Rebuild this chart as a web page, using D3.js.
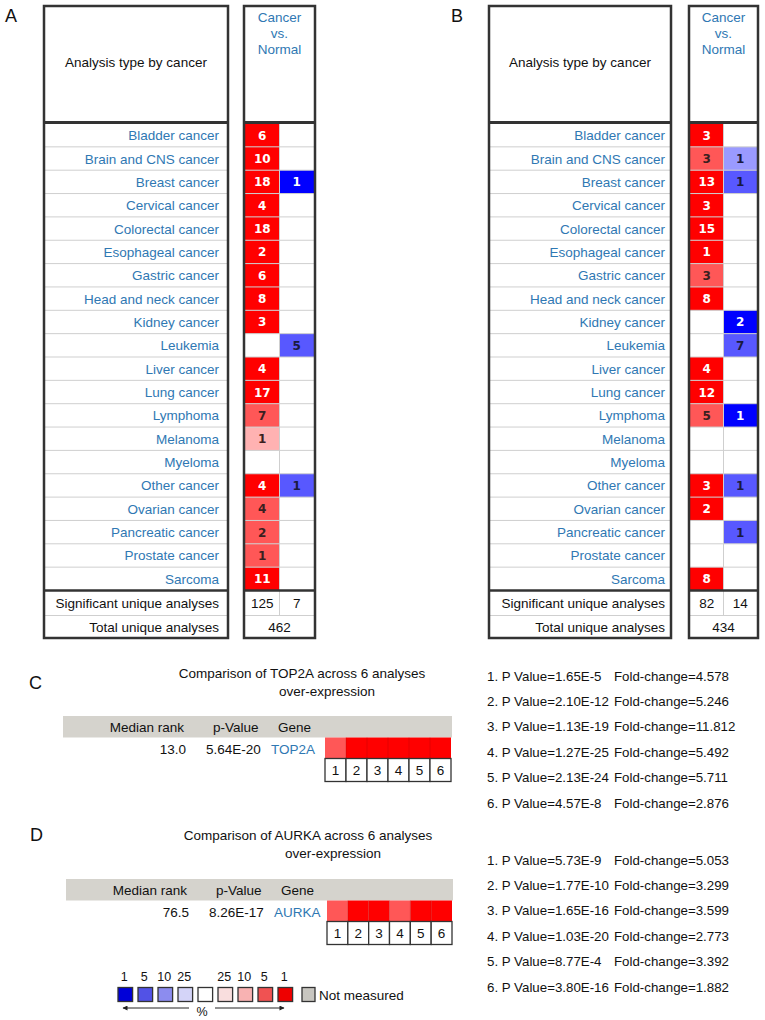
<!DOCTYPE html>
<html><head><meta charset="utf-8">
<script src="https://cdn.jsdelivr.net/npm/d3@7"></script>
<style>body{margin:0;background:#fff}svg{display:block}</style>
</head><body>
<script>
// ---------------- DATA ----------------
const cancers = ["Bladder cancer","Brain and CNS cancer","Breast cancer","Cervical cancer","Colorectal cancer","Esophageal cancer","Gastric cancer","Head and neck cancer","Kidney cancer","Leukemia","Liver cancer","Lung cancer","Lymphoma","Melanoma","Myeloma","Other cancer","Ovarian cancer","Pancreatic cancer","Prostate cancer","Sarcoma"];
// panel A (TOP2A): number of analyses over/under-expressed, and best gene-rank percentile (0 = none)
const upA       = [6,10,18,4,18,2,6,8,3,0,4,17,7,1,0,4,4,2,1,11];
const upRankA   = [1,1,1,1,1,1,1,1,1,0,1,1,5,10,0,1,5,5,5,1];
const downA     = [0,0,1,0,0,0,0,0,0,5,0,0,0,0,0,1,0,0,0,0];
const downRankA = [0,0,1,0,0,0,0,0,0,5,0,0,0,0,0,5,0,0,0,0];
const sigA = [125, 7];
const totalA = 462;
// panel B (AURKA)
const upB       = [3,3,13,3,15,1,3,8,0,0,4,12,5,0,0,3,2,0,0,8];
const upRankB   = [1,5,1,1,1,1,5,1,0,0,1,1,5,0,0,1,1,0,0,1];
const downB     = [0,1,1,0,0,0,0,0,2,7,0,0,1,0,0,1,0,1,0,0];
const downRankB = [0,10,5,0,0,0,0,0,1,5,0,0,1,0,0,5,0,5,0,0];
const sigB = [82, 14];
const totalB = 434;
// panels C / D
const analyses = [1,2,3,4,5,6];
const geneC = "TOP2A", medianRankC = "13.0", pValueC = "5.64E-20";
const cellRankC = [5,1,1,1,1,1];
const pListC  = ["1.65E-5","2.10E-12","1.13E-19","1.27E-25","2.13E-24","4.57E-8"];
const foldListC = ["4.578","5.246","11.812","5.492","5.711","2.876"];
const geneD = "AURKA", medianRankD = "76.5", pValueD = "8.26E-17";
const cellRankD = [5,1,1,5,1,1];
const pListD  = ["5.73E-9","1.77E-10","1.65E-16","1.03E-20","8.77E-4","3.80E-16"];
const foldListD = ["5.053","3.299","3.599","2.773","3.392","1.882"];
// legend
const legendLabels = ["1","5","10","25","","25","10","5","1"];
const legendKeys = ["b1","b5","b10","b25","w","r25","r10","r5","r1"];

// ---------------- STYLE ----------------
const FONT = "'Liberation Sans', Arial, Helvetica, sans-serif";
const BLUE_TXT = "#2f78b3";
const FS = 13.5;
const redScale = d3.scaleOrdinal().domain([1,5,10,25]).range(["#ff0000","#ff5757","#ffb2b2","#ffe0e0"]);
const blueScale = d3.scaleOrdinal().domain([1,5,10,25]).range(["#0000ff","#5858ff","#9a9aff","#d8d8ff"]);
const legendColor = d3.scaleOrdinal().domain(legendKeys)
  .range(["#0000d8","#5252e6","#8c8cef","#d4d4f8","#ffffff","#f9dede","#f8b2b2","#f05252","#ee0000"]);

const W = 765, H = 1020;
const svg = d3.select("body").append("svg").attr("width", W).attr("height", H);
svg.append("rect").attr("width", W).attr("height", H).attr("fill", "#fff");

function panelLetter(x, y, t) {
  svg.append("text").attr("x", x).attr("y", y).attr("font-family", FONT)
    .attr("font-size", 18).attr("fill", "#111").attr("dominant-baseline", "central").text(t);
}

function drawTable(g, up, upRank, down, downRank, sig, total) {
  const top = 6, headY = 122.5, rowsEnd = 590.5, sigEnd = 615.5, bottom = 638;
  const y = d3.scaleBand().domain(cancers).range([headY + 1, rowsEnd]);
  const rx0 = g.rx0 + 1, rx1 = g.rx1 - 1, rmid = (rx0 + rx1) / 2;
  const col = d3.scaleBand().domain(["up","down"]).range([rx0, rx1]);
  const s = svg.append("g");

  cancers.forEach((c, i) => {
    if (up[i] > 0) {
      s.append("rect").attr("x", col("up")).attr("y", y(c)).attr("width", col.bandwidth()).attr("height", y.bandwidth())
        .attr("fill", redScale(upRank[i]));
      s.append("text").attr("x", col("up") + col.bandwidth()/2).attr("y", y(c) + y.bandwidth()/2 + 0.5)
        .attr("text-anchor","middle").attr("dominant-baseline","central")
        .attr("font-family","'DejaVu Sans', Verdana, sans-serif").attr("font-weight","bold").attr("font-size",12)
        .attr("fill", upRank[i] === 1 ? "#fff" : "#3a2020").text(up[i]);
    }
    if (down[i] > 0) {
      s.append("rect").attr("x", col("down")).attr("y", y(c)).attr("width", col.bandwidth()).attr("height", y.bandwidth())
        .attr("fill", blueScale(downRank[i]));
      s.append("text").attr("x", col("down") + col.bandwidth()/2).attr("y", y(c) + y.bandwidth()/2 + 0.5)
        .attr("text-anchor","middle").attr("dominant-baseline","central")
        .attr("font-family","'DejaVu Sans', Verdana, sans-serif").attr("font-weight","bold").attr("font-size",12)
        .attr("fill", downRank[i] === 1 ? "#fff" : "#1a1a40").text(down[i]);
    }
  });

  const grid = s.append("g").attr("stroke", "#cfcfcf").attr("stroke-width", 1);
  cancers.slice(1).forEach(c => {
    grid.append("line").attr("x1", g.lx0).attr("x2", g.lx1).attr("y1", y(c)).attr("y2", y(c));
    grid.append("line").attr("x1", g.rx0).attr("x2", g.rx1).attr("y1", y(c)).attr("y2", y(c));
  });
  grid.append("line").attr("x1", g.lx0).attr("x2", g.lx1).attr("y1", sigEnd).attr("y2", sigEnd);
  grid.append("line").attr("x1", g.rx0).attr("x2", g.rx1).attr("y1", sigEnd).attr("y2", sigEnd);
  grid.append("line").attr("x1", col("down")).attr("x2", col("down")).attr("y1", headY).attr("y2", sigEnd);

  const bd = s.append("g").attr("fill","none").attr("stroke","#333").attr("stroke-width",2.5);
  bd.append("rect").attr("x", g.lx0).attr("y", top).attr("width", g.lx1 - g.lx0).attr("height", bottom - top);
  bd.append("rect").attr("x", g.rx0).attr("y", top).attr("width", g.rx1 - g.rx0).attr("height", bottom - top);
  bd.append("line").attr("x1", g.lx0).attr("x2", g.lx1).attr("y1", headY).attr("y2", headY).attr("stroke-width",3);
  bd.append("line").attr("x1", g.rx0).attr("x2", g.rx1).attr("y1", headY).attr("y2", headY).attr("stroke-width",3);
  bd.append("line").attr("x1", g.lx0).attr("x2", g.lx1).attr("y1", rowsEnd).attr("y2", rowsEnd).attr("stroke-width",2.5);
  bd.append("line").attr("x1", g.rx0).attr("x2", g.rx1).attr("y1", rowsEnd).attr("y2", rowsEnd).attr("stroke-width",2.5);

  s.append("text").attr("x", (g.lx0 + g.lx1)/2).attr("y", 62).attr("text-anchor","middle").attr("dominant-baseline","central")
    .attr("font-family", FONT).attr("font-size", FS).attr("fill","#111").text("Analysis type by cancer");
  ["Cancer","vs.","Normal"].forEach((t, k) => {
    s.append("text").attr("x", (g.rx0 + g.rx1)/2).attr("y", 17 + k*16).attr("text-anchor","middle").attr("dominant-baseline","central")
      .attr("font-family", FONT).attr("font-size", FS).attr("fill", BLUE_TXT).text(t);
  });

  cancers.forEach(c => {
    s.append("text").attr("x", g.labelX).attr("y", y(c) + y.bandwidth()/2 + 0.5).attr("text-anchor","end").attr("dominant-baseline","central")
      .attr("font-family", FONT).attr("font-size", FS).attr("fill", BLUE_TXT).text(c);
  });
  s.append("text").attr("x", g.labelX).attr("y", (rowsEnd + sigEnd)/2 + 0.5).attr("text-anchor","end").attr("dominant-baseline","central")
    .attr("font-family", FONT).attr("font-size", FS).attr("fill","#111").text("Significant unique analyses");
  s.append("text").attr("x", g.labelX).attr("y", (sigEnd + bottom)/2 + 0.5).attr("text-anchor","end").attr("dominant-baseline","central")
    .attr("font-family", FONT).attr("font-size", FS).attr("fill","#111").text("Total unique analyses");
  s.append("text").attr("x", col("up") + col.bandwidth()/2).attr("y", (rowsEnd + sigEnd)/2 + 0.5).attr("text-anchor","middle").attr("dominant-baseline","central")
    .attr("font-family", FONT).attr("font-size", FS).attr("fill","#111").text(sig[0]);
  s.append("text").attr("x", col("down") + col.bandwidth()/2).attr("y", (rowsEnd + sigEnd)/2 + 0.5).attr("text-anchor","middle").attr("dominant-baseline","central")
    .attr("font-family", FONT).attr("font-size", FS).attr("fill","#111").text(sig[1]);
  s.append("text").attr("x", rmid).attr("y", (sigEnd + bottom)/2 + 0.5).attr("text-anchor","middle").attr("dominant-baseline","central")
    .attr("font-family", FONT).attr("font-size", FS).attr("fill","#111").text(total);
}

panelLetter(5, 16, "A");
drawTable({lx0: 44, lx1: 228, rx0: 244, rx1: 315, labelX: 219}, upA, upRankA, downA, downRankA, sigA, totalA);
panelLetter(451, 16, "B");
drawTable({lx0: 489, lx1: 671, rx0: 689, rx1: 758, labelX: 665}, upB, upRankB, downB, downRankB, sigB, totalB);

// ---------------- panels C / D ----------------
function drawComparison(o, gene, medRank, pVal, cellRank, pList, foldList) {
  const s = svg.append("g");
  s.append("text").attr("x", o.titleX).attr("y", o.titleY).attr("text-anchor","middle").attr("dominant-baseline","central")
    .attr("font-family", FONT).attr("font-size", FS).attr("fill","#111").text(`Comparison of ${gene} across 6 analyses`);
  s.append("text").attr("x", o.titleX + 25).attr("y", o.titleY + 18.5).attr("text-anchor","middle").attr("dominant-baseline","central")
    .attr("font-family", FONT).attr("font-size", FS).attr("fill","#111").text("over-expression");
  s.append("rect").attr("x", o.barX0).attr("y", o.barY).attr("width", o.barX1 - o.barX0).attr("height", 21.5).attr("fill","#d5d3cd");
  const hy = o.barY + 11, vy = o.barY + 33;
  s.append("text").attr("x", o.barX0 + 121).attr("y", hy).attr("text-anchor","end").attr("dominant-baseline","central")
    .attr("font-family", FONT).attr("font-size", FS).attr("fill","#111").text("Median rank");
  s.append("text").attr("x", o.barX0 + 150).attr("y", hy).attr("dominant-baseline","central")
    .attr("font-family", FONT).attr("font-size", FS).attr("fill","#111").text("p-Value");
  s.append("text").attr("x", o.barX0 + 215).attr("y", hy).attr("dominant-baseline","central")
    .attr("font-family", FONT).attr("font-size", FS).attr("fill","#111").text("Gene");
  s.append("text").attr("x", o.barX0 + 123).attr("y", vy).attr("text-anchor","end").attr("dominant-baseline","central")
    .attr("font-family", FONT).attr("font-size", FS).attr("fill","#111").text(medRank);
  s.append("text").attr("x", o.barX0 + 143).attr("y", vy).attr("dominant-baseline","central")
    .attr("font-family", FONT).attr("font-size", FS).attr("fill","#111").text(pVal);
  s.append("text").attr("x", o.barX0 + 208).attr("y", vy).attr("dominant-baseline","central")
    .attr("font-family", FONT).attr("font-size", FS).attr("fill", BLUE_TXT).text(gene);
  const x = d3.scaleBand().domain(analyses).range([o.cellX0, o.cellX1]);
  const cy0 = o.barY + 21.5, cy1 = cy0 + 21, ny1 = cy1 + 23;
  s.selectAll(".hc").data(analyses).join("rect").attr("x", d => x(d)).attr("y", cy0)
    .attr("width", x.bandwidth()).attr("height", cy1 - cy0).attr("fill", (d, i) => redScale(cellRank[i]));
  s.selectAll(".hl").data(analyses.slice(1)).join("line").attr("x1", d => x(d)).attr("x2", d => x(d))
    .attr("y1", cy0).attr("y2", cy1).attr("stroke", "rgba(150,0,0,0.25)").attr("stroke-width", 1);
  s.selectAll(".nb").data(analyses).join("rect").attr("x", d => x(d)).attr("y", cy1)
    .attr("width", x.bandwidth()).attr("height", ny1 - cy1).attr("fill","#fff").attr("stroke","#333").attr("stroke-width",1.3);
  s.selectAll(".nt").data(analyses).join("text").attr("x", d => x(d) + x.bandwidth()/2).attr("y", (cy1 + ny1)/2 + 0.5)
    .attr("text-anchor","middle").attr("dominant-baseline","central").attr("font-family", FONT).attr("font-size", FS)
    .attr("fill","#111").text(d => d);
  const ly = d3.scalePoint().domain(analyses).range([o.listY, o.listY + 5 * 25.4]);
  analyses.forEach((d, i) => {
    s.append("text").attr("x", 487).attr("y", ly(d)).attr("dominant-baseline","central")
      .attr("font-family", FONT).attr("font-size", 13.3).attr("fill","#111").text(`${d}. P Value=${pList[i]}`);
    s.append("text").attr("x", 614).attr("y", ly(d)).attr("dominant-baseline","central")
      .attr("font-family", FONT).attr("font-size", 13.3).attr("fill","#111").text(`Fold-change=${foldList[i]}`);
  });
}

panelLetter(29, 683, "C");
drawComparison({titleX: 302, titleY: 673, barX0: 63, barX1: 452, barY: 716, cellX0: 325, cellX1: 451, listY: 676},
  geneC, medianRankC, pValueC, cellRankC, pListC, foldListC);
panelLetter(30, 835, "D");
drawComparison({titleX: 308, titleY: 835, barX0: 66, barX1: 453, barY: 879, cellX0: 327, cellX1: 452, listY: 860},
  geneD, medianRankD, pValueD, cellRankD, pListD, foldListD);

// ---------------- legend ----------------
const lg = svg.append("g");
const lx = d3.scaleBand().domain(legendKeys).range([118, 118 + 9 * 19.4]).paddingInner(0.27).paddingOuter(0);
lg.selectAll(".lb").data(legendKeys).join("rect").attr("x", d => lx(d)).attr("y", 987.5)
  .attr("width", lx.bandwidth()).attr("height", 14).attr("fill", d => legendColor(d))
  .attr("stroke","#333").attr("stroke-width",1.3);
lg.selectAll(".ll").data(legendKeys).join("text").attr("x", d => lx(d) + lx.bandwidth()/2 - 1).attr("y", 977)
  .attr("text-anchor","middle").attr("dominant-baseline","central").attr("font-family", FONT).attr("font-size", 12.5)
  .attr("fill","#111").text((d, i) => legendLabels[i]);
lg.append("rect").attr("x", 302).attr("y", 987.5).attr("width", 13).attr("height", 14).attr("fill","#c8c6c0")
  .attr("stroke","#333").attr("stroke-width",1.3);
lg.append("text").attr("x", 319).attr("y", 995).attr("dominant-baseline","central").attr("font-family", FONT)
  .attr("font-size", 13.5).attr("fill","#111").text("Not measured");
const defs = svg.append("defs");
defs.append("marker").attr("id","ah").attr("viewBox","0 0 10 10").attr("refX",9).attr("refY",5)
  .attr("markerWidth",7).attr("markerHeight",5).attr("orient","auto-start-reverse")
  .append("path").attr("d","M0,0L10,5L0,10z").attr("fill","#222");
lg.append("line").attr("x1", 189).attr("x2", 123).attr("y1", 1008).attr("y2", 1008).attr("stroke","#222").attr("stroke-width",1)
  .attr("marker-end","url(#ah)");
lg.append("line").attr("x1", 215).attr("x2", 284).attr("y1", 1008).attr("y2", 1008).attr("stroke","#222").attr("stroke-width",1)
  .attr("marker-end","url(#ah)");
lg.append("text").attr("x", 202).attr("y", 1012).attr("text-anchor","middle").attr("dominant-baseline","central")
  .attr("font-family", FONT).attr("font-size", 12.5).attr("fill","#111").text("%");
</script>
</body></html>
